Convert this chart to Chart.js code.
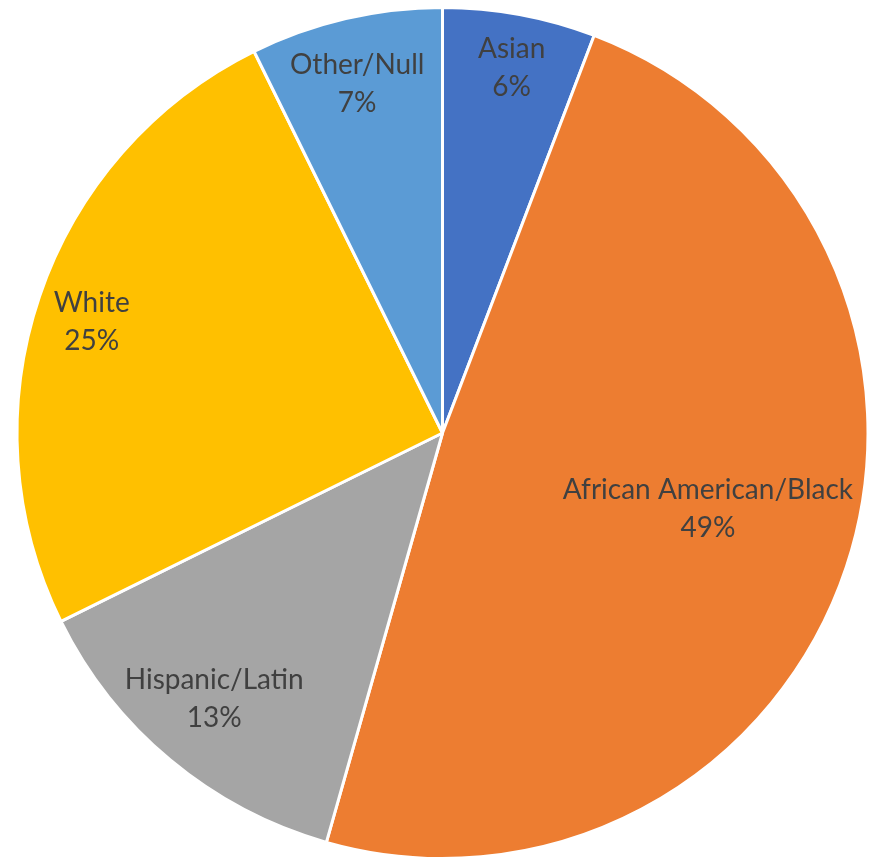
<!DOCTYPE html>
<html>
<head>
<meta charset="utf-8">
<title>Pie chart</title>
<script src="https://cdn.jsdelivr.net/npm/chart.js@4.4.0/dist/chart.umd.min.js"></script>
<style>
  html, body { margin: 0; padding: 0; background: #ffffff; }
  #wrap { width: 871px; height: 864px; }
</style>
</head>
<body>
<div id="wrap"><canvas id="myChart" width="871" height="864"></canvas></div>
<script>
'use strict';

// data (share of total, %)
var categories = ['Asian', 'African American/Black', 'Hispanic/Latin', 'White', 'Other/Null'];
var shares = [5.8, 48.6, 13.3, 25.0, 7.3];
var shareLabels = shares.map(function(v) { return Math.round(v) + '%'; });

// label placement: fraction of the radius + small turn (degrees) off the slice middle
var labelDepth = [0.872, 0.649, 0.823, 0.865, 0.844];
var labelTurn = [0.3, -2.3, 0.9, -1.1, -0.6];

var sliceLabels = {
  id: 'sliceLabels',
  afterDatasetsDraw: function(chart) {
    var c = chart.ctx;
    var arcs = chart.getDatasetMeta(0).data;
    c.save();
    c.font = '28px Lato';
    c.fillStyle = '#404040';
    c.textAlign = 'center';
    c.textBaseline = 'middle';
    arcs.forEach(function(arc, i) {
      var p = arc.getProps(['x', 'y', 'startAngle', 'endAngle', 'outerRadius'], true);
      var mid = (p.startAngle + p.endAngle) / 2 + labelTurn[i] * Math.PI / 180;
      var r = p.outerRadius * labelDepth[i];
      var x = p.x + Math.cos(mid) * r;
      var y = p.y + Math.sin(mid) * r;
      c.fillText(categories[i], x, y - 19);
      c.fillText(shareLabels[i], x, y + 19);
    });
    c.restore();
  }
};

var ctx = document.getElementById('myChart').getContext('2d');

var chart = new Chart(ctx, {
  type: 'pie',
  data: {
    labels: categories,
    datasets: [{
      data: shares,
      backgroundColor: ['#4472C4', '#ED7D31', '#A5A5A5', '#FFC000', '#5B9BD5'],
      borderColor: '#ffffff',
      borderWidth: 3,
      hoverOffset: 0
    }]
  },
  options: {
    responsive: false,
    animation: false,
    layout: { padding: { left: 15, right: 1, top: 6, bottom: 4 } },
    plugins: {
      legend: { display: false },
      tooltip: { enabled: false }
    }
  },
  plugins: [sliceLabels]
});
</script>
</body>
</html>
